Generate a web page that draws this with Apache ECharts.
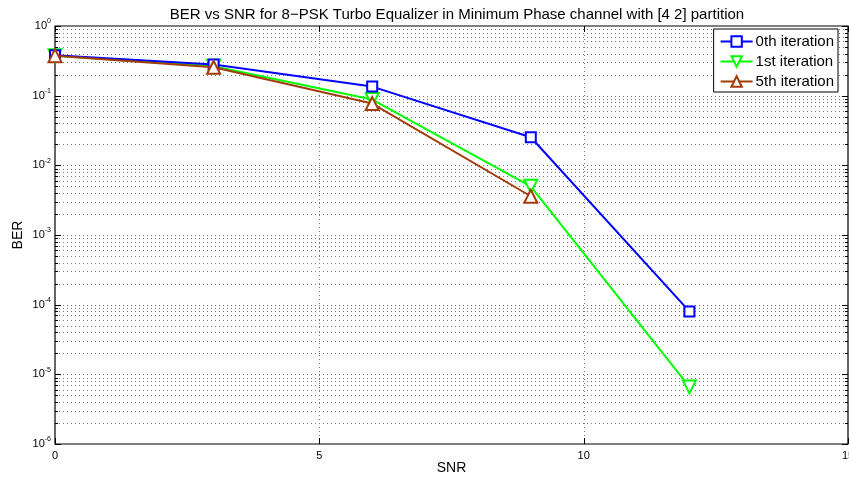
<!DOCTYPE html>
<html>
<head>
<meta charset="utf-8">
<script src="https://cdn.jsdelivr.net/npm/echarts@6/dist/echarts.min.js"></script>
<style>
  html, body { margin: 0; padding: 0; background: #fff; }
  #chart { width: 849px; height: 479px; }
</style>
</head>
<body>
<div id="chart"></div>
<script>
// SNR points (dB) and BER per equalizer iteration
const snr = [0, 3, 6, 9, 12];
const berIter0 = [0.38, 0.28, 0.135, 0.0253, 8.0e-5];
const berIter1 = [0.375, 0.265, 0.088, 0.0050, 6.6e-6];
const berIter5 = [0.375, 0.255, 0.077, 0.0036];
const seriesNames = ['0th iteration', '1st iteration', '5th iteration'];
const xTicks = [0, 5, 10, 15];
const yDecades = [-6, -5, -4, -3, -2, -1, 0];

const FONT = '"Liberation Sans", Arial, Helvetica, sans-serif';
const X_MIN = 0, X_MAX = 15, Y_MIN = 1e-6, Y_MAX = 1;

// horizontal grid: decades (major) and 2..9 x 10^k (minor)
const hLines = [];
for (let i = 0; i < yDecades.length; i++) {
  const k = yDecades[i];
  hLines.push([X_MIN, Math.pow(10, k), 1]);
  if (k < 0) for (let m = 2; m <= 9; m++) hLines.push([X_MIN, m * Math.pow(10, k), 0]);
}
const vLines = xTicks.map(v => [v, Y_MIN]);

const pair = (xs, ys) => ys.map((y, i) => [xs[i], y]);

const dotted = { stroke: '#777', lineWidth: 1, lineDash: [1, 3] };
const solid = { stroke: '#000', lineWidth: 1 };

function renderHLine(params, api) {
  const v = api.value(1), major = api.value(2) === 1;
  const a = api.coord([X_MIN, v]), b = api.coord([X_MAX, v]);
  const y = Math.round(a[1]) + 0.5;
  const tl = major ? 6 : 3;
  const children = [];
  if (v < Y_MAX && v > Y_MIN) {
    children.push({ type: 'line', shape: { x1: a[0], y1: y, x2: b[0], y2: y }, style: dotted });
  }
  children.push({ type: 'line', shape: { x1: a[0], y1: y, x2: a[0] + tl, y2: y }, style: solid });
  children.push({ type: 'line', shape: { x1: b[0] - tl, y1: y, x2: b[0], y2: y }, style: solid });
  return { type: 'group', children: children };
}

function renderVLine(params, api) {
  const v = api.value(0);
  const a = api.coord([v, Y_MIN]), b = api.coord([v, Y_MAX]);
  const x = Math.round(a[0]) + 0.5;
  const children = [];
  if (v > X_MIN && v < X_MAX) {
    children.push({ type: 'line', shape: { x1: x, y1: a[1], x2: x, y2: b[1] }, style: dotted });
  }
  children.push({ type: 'line', shape: { x1: x, y1: a[1], x2: x, y2: a[1] - 6 }, style: solid });
  children.push({ type: 'line', shape: { x1: x, y1: b[1], x2: x, y2: b[1] + 6 }, style: solid });
  return { type: 'group', children: children };
}

function renderFrame(params, api) {
  const tl = api.coord([X_MIN, Y_MAX]), br = api.coord([X_MAX, Y_MIN]);
  return {
    type: 'rect',
    shape: { x: tl[0], y: tl[1], width: br[0] - tl[0], height: br[1] - tl[1] },
    style: { fill: null, stroke: '#000', lineWidth: 1.2 }
  };
}

const chart = echarts.init(document.getElementById('chart'));
chart.setOption({
  animation: false,
  textStyle: { fontFamily: FONT },
  title: {
    text: 'BER vs SNR for 8\u2212PSK Turbo Equalizer in Minimum Phase channel with [4 2] partition',
    left: 452, top: 2, textAlign: 'center',
    textStyle: { fontSize: 15, fontWeight: 'normal', color: '#000', fontFamily: FONT }
  },
  grid: { left: 55, right: 1, top: 26, bottom: 35, outerBoundsMode: 'none', containLabel: false },
  legend: {
    right: 11, top: 29, orient: 'vertical',
    backgroundColor: '#fff', borderColor: '#000', borderWidth: 1,
    padding: [5, 4, 3, 6], itemGap: 5,
    itemWidth: 32, itemHeight: 13,
    textStyle: { fontSize: 15, color: '#000', fontFamily: FONT, padding: [0, 0, 0, -2] },
    data: seriesNames
  },
  xAxis: {
    type: 'value', min: X_MIN, max: X_MAX, interval: 5,
    name: 'SNR', nameLocation: 'middle', nameGap: 17, nameMoveOverlap: false,
    nameTextStyle: { fontSize: 14, color: '#000' },
    axisLine: { show: false },
    axisTick: { show: false },
    axisLabel: { fontSize: 11, color: '#000', margin: 6 },
    splitLine: { show: false }
  },
  yAxis: {
    type: 'log', logBase: 10, min: Y_MIN, max: Y_MAX, splitNumber: 6,
    name: 'BER', nameLocation: 'middle', nameGap: 30, nameMoveOverlap: false,
    nameTextStyle: { fontSize: 14, color: '#000' },
    axisLine: { show: false },
    axisTick: { show: false },
    axisLabel: {
      margin: 4, color: '#000',
      formatter: v => '{b|10}{s|' + Math.round(Math.log10(v)) + '}',
      rich: {
        b: { fontSize: 11, color: '#000', fontFamily: FONT },
        s: { fontSize: 7, color: '#000', fontFamily: FONT, padding: [0, 0, 9, 0] }
      }
    },
    splitLine: { show: false }
  },
  series: [
    {
      type: 'custom', silent: true, data: hLines, renderItem: renderHLine,
      encode: { x: 0, y: 1 }, z: 1, clip: false
    },
    {
      type: 'custom', silent: true, data: vLines, renderItem: renderVLine,
      encode: { x: 0, y: 1 }, z: 1, clip: false
    },
    {
      type: 'custom', silent: true, data: [[X_MIN, Y_MIN]], renderItem: renderFrame,
      encode: { x: 0, y: 1 }, z: 2, clip: false
    },
    {
      name: seriesNames[0], type: 'line', data: pair(snr, berIter0),
      lineStyle: { width: 2, color: '#0000ff' },
      symbol: 'rect', symbolSize: 10, showAllSymbol: true,
      itemStyle: { color: '#ffffff', borderColor: '#0000ff', borderWidth: 2 }, z: 5
    },
    {
      name: seriesNames[1], type: 'line', data: pair(snr, berIter1),
      lineStyle: { width: 2, color: '#00ff00' },
      symbol: 'triangle', symbolRotate: 180, symbolSize: 13,
      itemStyle: { color: '#ffffff', borderColor: '#00ff00', borderWidth: 2 }, z: 4
    },
    {
      name: seriesNames[2], type: 'line', data: pair(snr, berIter5),
      lineStyle: { width: 2, color: '#a33b0b' },
      symbol: 'triangle', symbolSize: 13,
      itemStyle: { color: '#ffffff', borderColor: '#a33b0b', borderWidth: 2 }, z: 6
    }
  ]
});
</script>
</body>
</html>
